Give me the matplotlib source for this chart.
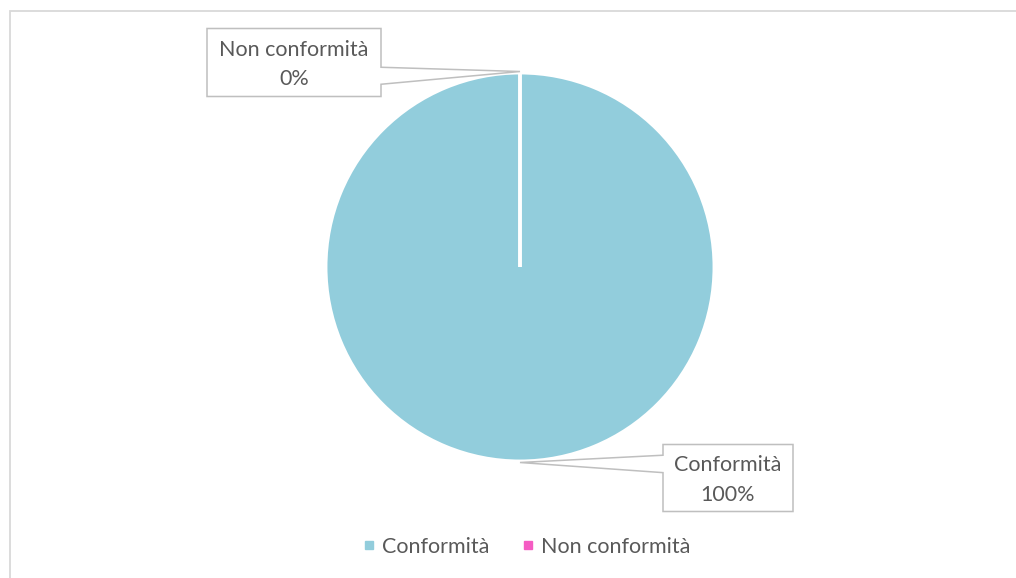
import matplotlib.pyplot as plt
from matplotlib.patches import Polygon, Rectangle
from matplotlib.lines import Line2D
import numpy as np

plt.rcParams['font.family'] = ['Lato', 'DejaVu Sans']

# data
categories = ['Conformità', 'Non conformità']
values = [100, 0]
colors = ['#92CDDC', '#F55CC3']

W, H = 1016, 578
TXT = '#595959'

fig = plt.figure(figsize=(W / 100, H / 100), dpi=100)
ax = fig.add_axes([0, 0, 1, 1])

# pie in pixel units (y up)
cx, cy, r = 520, H - 267, 194.5
wedges, _ = ax.pie(values, colors=colors, startangle=90, counterclock=False,
                   center=(cx, cy), radius=r, frame=True,
                   wedgeprops=dict(edgecolor='white', linewidth=2.8))
ax.set_xlim(0, W)
ax.set_ylim(0, H)
ax.axis('off')

# callout layout: box offset from anchor, box size, side of wedge, wedge base (fractions from top)
callouts = {
    0: dict(off=(208, -15.5), size=(130, 67), side='left', base=(0.16, 0.42)),
    1: dict(off=(-226, 9), size=(174, 68), side='right', base=(0.57, 0.82)),
}

total = sum(values)
for i, w in enumerate(wedges):
    mid = np.deg2rad((w.theta1 + w.theta2) / 2)
    axp, ayp = cx + (r + 1) * np.cos(mid), cy + (r + 1) * np.sin(mid)
    c = callouts[i]
    bx, by = axp + c['off'][0], ayp + c['off'][1]
    bw, bh = c['size']
    L, R, T, B = bx - bw / 2, bx + bw / 2, by + bh / 2, by - bh / 2
    f0, f1 = c['base']
    if c['side'] == 'right':
        pts = [(L, T), (R, T), (R, T - f0 * bh), (axp, ayp), (R, T - f1 * bh), (R, B), (L, B)]
    else:
        pts = [(L, T), (R, T), (R, B), (L, B), (L, T - f1 * bh), (axp, ayp), (L, T - f0 * bh)]
    ax.add_patch(Polygon(pts, closed=True, facecolor='white', edgecolor='#BFBFBF', lw=1.1, zorder=5))
    pct = values[i] / total * 100
    ax.text(bx, by - 2, f"{categories[i]}\n{pct:.0f}%", ha='center', va='center',
            multialignment='center', fontsize=15.5, color=TXT, linespacing=1.62, zorder=6)

# legend
handles = [Line2D([], [], ls='none', marker='s', ms=6, mfc=col, mec=col) for col in colors]
fig.legend(handles, categories, loc='center', bbox_to_anchor=(524 / W, 1 - 547 / H),
           ncol=2, frameon=False, fontsize=15.5, labelcolor=TXT, handletextpad=0.1,
           columnspacing=1.3, handlelength=1.0)

# chart area border
ax.add_patch(Rectangle((9.5, -20), W + 20, H - 11 + 20, fill=False, edgecolor='#D9D9D9',
                       lw=1.3, clip_on=False, zorder=0))

fig.savefig('out.png', dpi=100)
